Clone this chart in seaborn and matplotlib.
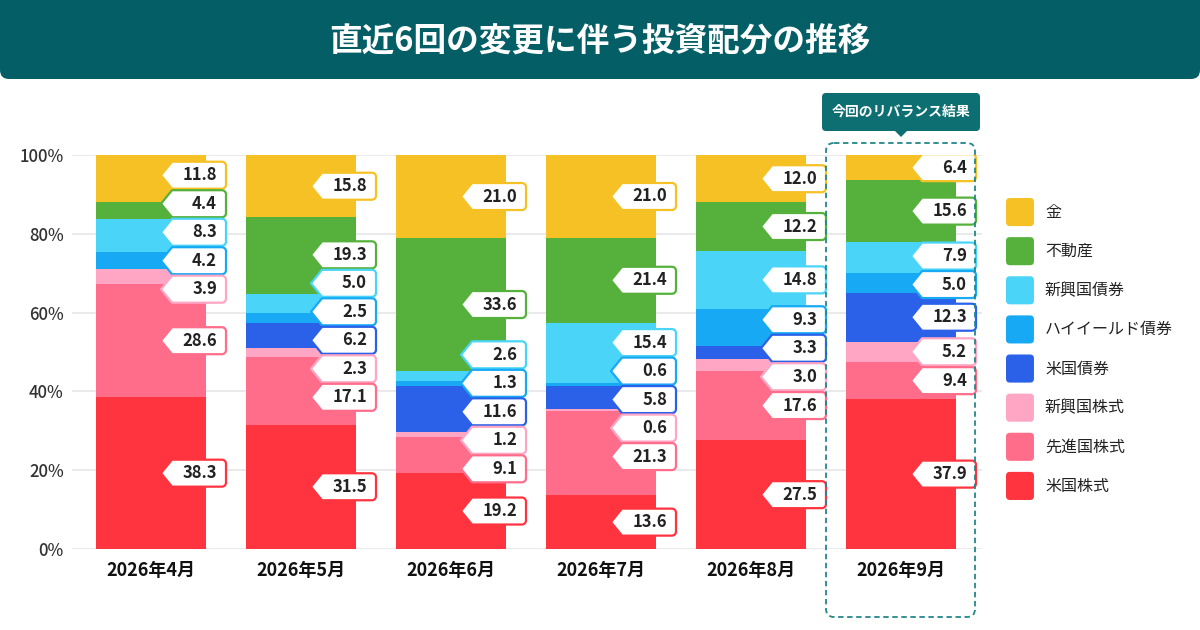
import numpy as np
import pandas as pd
import matplotlib
matplotlib.use("Agg")
import matplotlib.pyplot as plt
import seaborn as sns
from matplotlib.patches import FancyBboxPatch, Polygon, Patch
from matplotlib.legend_handler import HandlerPatch

# ---------------- data ----------------
months = ["2026年4月", "2026年5月", "2026年6月", "2026年7月", "2026年8月", "2026年9月"]
assets = ["米国株式", "先進国株式", "新興国株式", "米国債券",
          "ハイイールド債券", "新興国債券", "不動産", "金"]          # bottom -> top
us_equity  = [38.3, 31.5, 19.2, 13.6, 27.5, 37.9]
dev_equity = [28.6, 17.1, 9.1, 21.3, 17.6, 9.4]
em_equity  = [3.9, 2.3, 1.2, 0.6, 3.0, 5.2]
us_bond    = [0.0, 6.2, 11.6, 5.8, 3.3, 12.3]
hy_bond    = [4.2, 2.5, 1.3, 0.6, 9.3, 5.0]
em_bond    = [8.3, 5.0, 2.6, 15.4, 14.8, 7.9]
reit       = [4.4, 19.3, 33.6, 21.4, 12.2, 15.6]
gold       = [11.8, 15.8, 21.0, 21.0, 12.0, 6.4]
y_ticks = [0, 20, 40, 60, 80, 100]
y_tick_labels = ["0%", "20%", "40%", "60%", "80%", "100%"]
title = "直近6回の変更に伴う投資配分の推移"
tag_text = "今回のリバランス結果"

colors = ["#FF343F", "#FF6D8A", "#FFA6C4", "#2B61E8",
          "#18A9F5", "#4AD4F8", "#55B13B", "#F5C125"]

series = [us_equity, dev_equity, em_equity, us_bond, hy_bond, em_bond, reit, gold]
raw = pd.DataFrame(np.array(series).T, index=months, columns=assets)
norm = raw.div(raw.sum(axis=1), axis=0) * 100
tops = norm.cumsum(axis=1)
bottoms = tops - norm

# ---------------- figure ----------------
sns.set_theme(style="white")
plt.rcParams["font.family"] = ["Noto Sans CJK JP", "DejaVu Sans"]

W, H = 1200, 630
fig = plt.figure(figsize=(12, 6.3), dpi=100)
fig.patch.set_facecolor("white")

# main axes: x from 72px to 982px, y from 155px (100%) to 549px (0%)
ax = fig.add_axes([72 / W, 1 - 549 / H, (982 - 72) / W, (549 - 155) / H])
px_x = 1 / 150.0          # data units per pixel (x)
px_y = 100 / 394.0        # data units per pixel (y)
bar_w = 110 / 150.0

# stacked bars: draw cumulative tops from the highest layer down
for k in range(len(assets) - 1, -1, -1):
    sns.barplot(x=months, y=tops[assets[k]].values, order=months,
                color=colors[k], saturation=1, width=bar_w,
                linewidth=0, errorbar=None, ax=ax, zorder=2)

ax.set_xlim((72 - 151) * px_x, (982 - 151) * px_x)
ax.set_ylim(0, 100)
ax.set_yticks(y_ticks)
ax.set_yticklabels(y_tick_labels)
ax.yaxis.grid(True, color="#E8E8EC", linewidth=1.3, zorder=0)
ax.xaxis.grid(False)
ax.set_axisbelow(True)
for s in ax.spines.values():
    s.set_visible(False)
ax.tick_params(axis="y", length=0, pad=6, labelsize=12, labelcolor="#333333")
ax.tick_params(axis="x", length=0, pad=9, labelsize=13, labelcolor="#111111")
for t in ax.get_xticklabels():
    t.set_fontweight("bold")
for t in ax.get_yticklabels():
    t.set_fontweight("medium")
ax.set_xlabel("")
ax.set_ylabel("")


# ---------------- callout labels ----------------
def relax(mids, gap, iters=400):
    y = list(mids)
    for _ in range(iters):
        moved = False
        for i in range(len(y) - 1):
            d = y[i] - y[i + 1]
            if d < gap - 1e-6:
                push = (gap - d) / 2
                y[i] += push
                y[i + 1] -= push
                moved = True
        if not moved:
            break
    return y


gap = 28.5 * px_y
half_h = 13.5 * px_y
for j, m in enumerate(months):
    items = []
    for k in range(len(assets) - 1, -1, -1):        # top first
        v = raw.loc[m, assets[k]]
        if v <= 0:
            continue
        mid = bottoms.loc[m, assets[k]] + norm.loc[m, assets[k]] / 2
        items.append((mid, v, colors[k]))
    ys = relax([it[0] for it in items], gap)
    tip = j + 10 * px_x
    left = j + 21 * px_x
    right = j + 75 * px_x
    r = 4
    for (mid, v, c), yc in zip(items, ys):
        top, bot = yc + half_h, yc - half_h
        pts = [(tip, yc), (left, top)]
        for a in np.linspace(90, 0, 6):
            pts.append((right - r * px_x + r * px_x * np.cos(np.radians(a)),
                        top - r * px_y + r * px_y * np.sin(np.radians(a))))
        for a in np.linspace(0, -90, 6):
            pts.append((right - r * px_x + r * px_x * np.cos(np.radians(a)),
                        bot + r * px_y + r * px_y * np.sin(np.radians(a))))
        pts.append((left, bot))
        poly = Polygon(pts, closed=True, facecolor="white", edgecolor=c,
                       linewidth=1.6, joinstyle="round", zorder=5)
        ax.add_patch(poly)
        ax.text(right - 9 * px_x, yc, f"{v:.1f}", ha="right", va="center",
                fontsize=12, fontweight="bold", color="#222222", zorder=6)

# ---------------- legend ----------------
class RoundHandler(HandlerPatch):
    def create_artists(self, legend, orig_handle, xdescent, ydescent,
                       width, height, fontsize, trans):
        p = FancyBboxPatch((-xdescent, -ydescent), width, height,
                           boxstyle=f"round,pad=0,rounding_size={width * 0.14}",
                           facecolor=orig_handle.get_facecolor(),
                           edgecolor="none", transform=trans)
        return [p]


handles = [Patch(facecolor=colors[k], label=assets[k]) for k in range(len(assets) - 1, -1, -1)]
leg = fig.legend(handles=handles, loc="upper left",
                 bbox_to_anchor=(1006 / W, 1 - 198 / H), bbox_transform=fig.transFigure,
                 frameon=False, borderpad=0, borderaxespad=0,
                 handlelength=1.75, handleheight=2.33, labelspacing=0.69,
                 handletextpad=0.69, fontsize=11.5,
                 handler_map={Patch: RoundHandler()})
for t in leg.get_texts():
    t.set_color("#222222")

# ---------------- overlay decorations ----------------
ov = fig.add_axes([0, 0, 1, 1], zorder=10)
ov.set_xlim(0, W)
ov.set_ylim(H, 0)
ov.axis("off")
ov.patch.set_alpha(0)

# title banner
ov.add_patch(FancyBboxPatch((0, -30), W, 109, boxstyle="round,pad=0,rounding_size=9",
                            facecolor="#045E66", edgecolor="none"))
ov.text(W / 2, 41, title, ha="center", va="center", fontsize=23.5,
        fontweight="bold", color="white")

# highlight box around last bar (computed from the data transform)
fig.canvas.draw()
x0_disp = ax.transData.transform((len(months) - 1 - 0.5, 0))[0]
x1_disp = ax.transData.transform((len(months) - 1 + 0.5, 0))[0]
bx0, bx1 = x0_disp, x1_disp
ov.add_patch(FancyBboxPatch((bx0, 143), bx1 - bx0 - 1, 474,
                            boxstyle="round,pad=0,rounding_size=8",
                            facecolor="none", edgecolor="#24878A",
                            linewidth=1.3, linestyle=(0, (3, 2))))
cx = (bx0 + bx1) / 2
ov.add_patch(FancyBboxPatch((cx - 79, 93), 158, 38,
                            boxstyle="round,pad=0,rounding_size=4",
                            facecolor="#0E6F72", edgecolor="none"))
ov.add_patch(Polygon([(cx - 7, 130), (cx + 7, 130), (cx, 137)], closed=True,
                     facecolor="#0E6F72", edgecolor="none"))
ov.text(cx, 112, tag_text, ha="center", va="center", fontsize=10,
        fontweight="bold", color="white")

fig.savefig("out.png", dpi=100, facecolor="white")
